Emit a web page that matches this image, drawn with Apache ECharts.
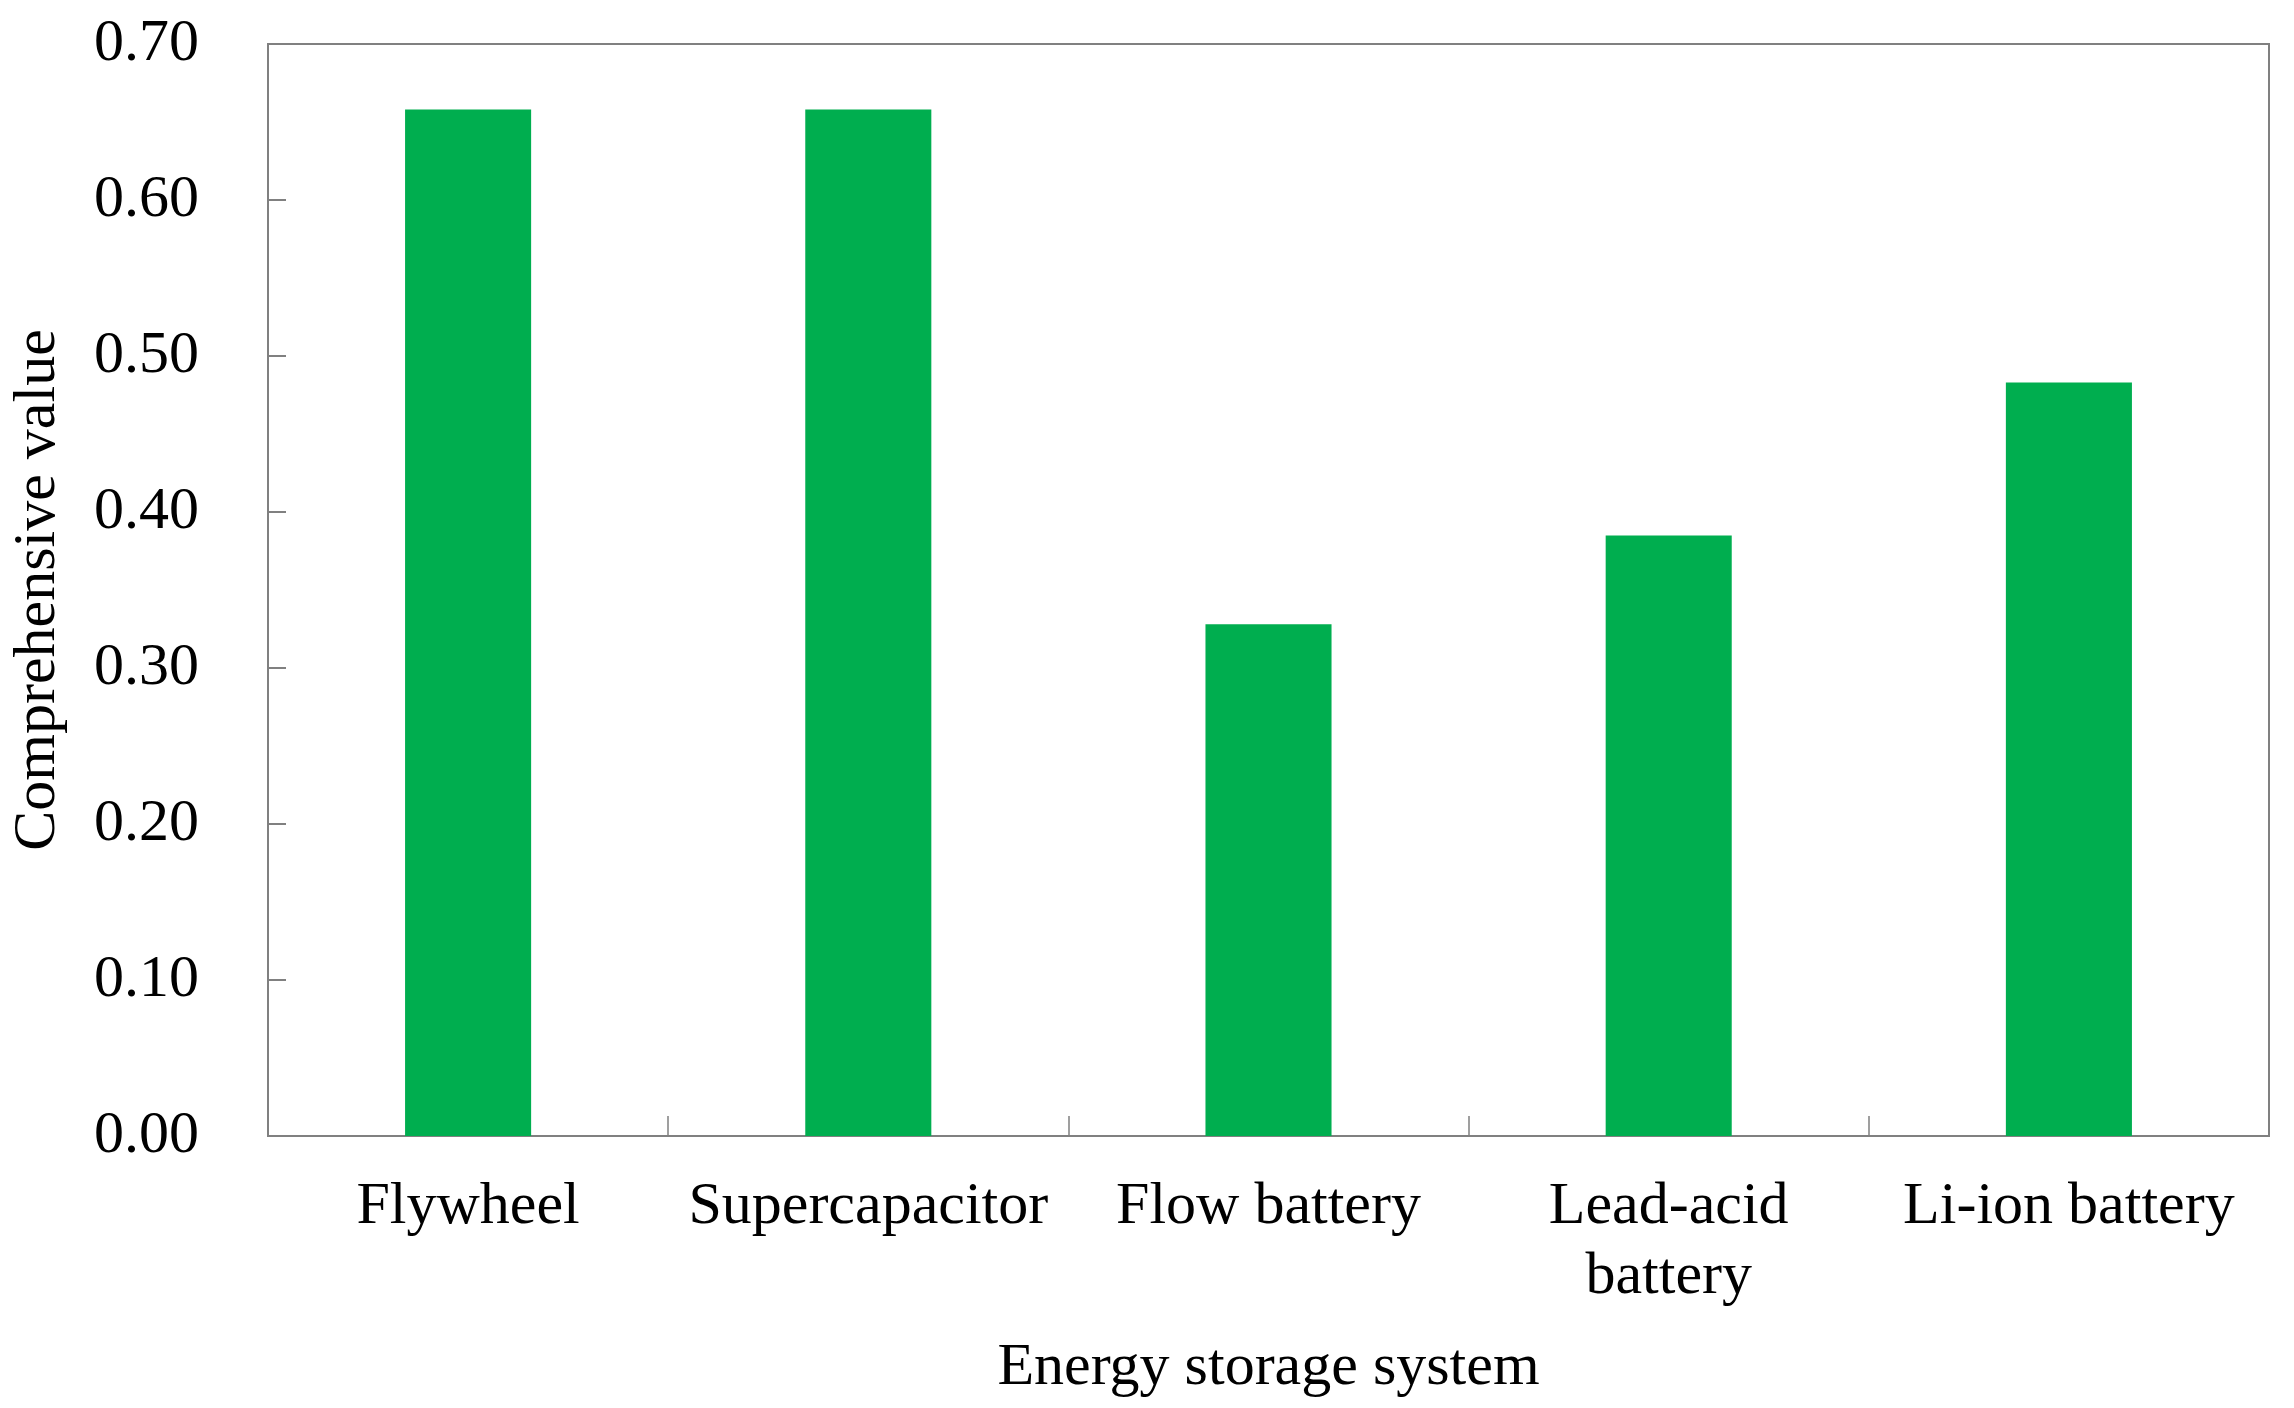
<!DOCTYPE html>
<html>
<head>
<meta charset="utf-8">
<script src="https://cdn.jsdelivr.net/npm/echarts@6/dist/echarts.min.js"></script>
<style>
html,body{margin:0;padding:0;background:#fff;}
#c{width:2294px;height:1408px;}
</style>
</head>
<body>
<div id="c"></div>
<script>
const categories = ['Flywheel', 'Supercapacitor', 'Flow battery', 'Lead-acid\nbattery', 'Li-ion battery'];
const values = [0.658, 0.658, 0.328, 0.385, 0.483];
const xAxisTitle = 'Energy storage system';
const yAxisTitle = 'Comprehensive value';

const FONT = "'Liberation Serif', 'Times New Roman', serif";
const chart = echarts.init(document.getElementById('c'), null, {renderer: 'canvas'});
chart.setOption({
  animation: false,
  backgroundColor: '#ffffff',
  grid: {
    left: 262, right: 25, top: 44, bottom: 272,
    show: true, borderColor: '#808080', borderWidth: 2, containLabel: false
  },
  xAxis: {
    type: 'category',
    data: categories,
    boundaryGap: true,
    name: xAxisTitle,
    nameLocation: 'middle',
    nameGap: 202,
    nameTextStyle: {fontFamily: FONT, fontSize: 60, color: '#000'},
    axisLine: {lineStyle: {color: '#808080', width: 2}},
    axisTick: {show: true, inside: true, length: 20, alignWithLabel: false, lineStyle: {color: '#808080', width: 1.5}},
    axisLabel: {interval: 0, margin: 36, fontFamily: FONT, fontSize: 60, color: '#000', lineHeight: 70},
    splitLine: {show: false}
  },
  yAxis: {
    type: 'value',
    min: 0, max: 0.7, interval: 0.1,
    name: yAxisTitle,
    nameLocation: 'middle',
    nameGap: 200,
    nameRotate: 90,
    nameTextStyle: {fontFamily: FONT, fontSize: 60, color: '#000'},
    axisLine: {show: true, lineStyle: {color: '#808080', width: 2}},
    axisTick: {show: true, inside: true, length: 18, lineStyle: {color: '#808080', width: 2}},
    axisLabel: {margin: 69, fontFamily: FONT, fontSize: 60, color: '#000', formatter: v => v.toFixed(2)},
    splitLine: {show: false}
  },
  series: [{
    type: 'bar',
    data: values,
    barWidth: '31.5%',
    itemStyle: {color: '#00AE4F'}
  }]
});
</script>
</body>
</html>
